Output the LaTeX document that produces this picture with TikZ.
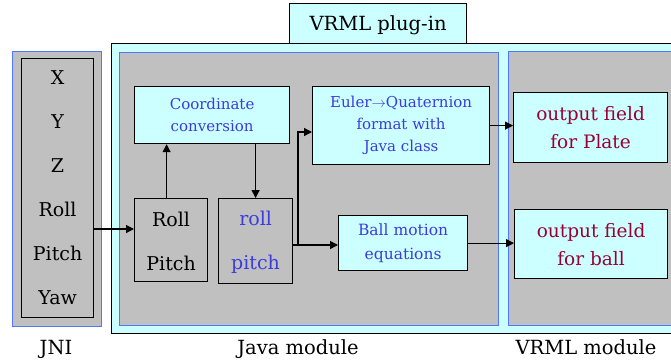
\documentclass[tikz,border=0pt]{standalone}
\usepackage{fontspec}
\setmainfont{DejaVu Serif}
\usetikzlibrary{arrows.meta,calc}
\definecolor{grayfill}{RGB}{192,192,192}
\definecolor{cyanfill}{RGB}{204,255,255}
\definecolor{blueline}{RGB}{80,120,255}
\definecolor{bluetext}{RGB}{60,60,220}
\definecolor{redtext}{RGB}{153,0,51}
\tikzset{
  box/.style={draw=black, line width=1.2pt, inner sep=0pt, anchor=north west},
  module/.style={draw=blueline, line width=1.2pt, fill=grayfill, inner sep=0pt, anchor=north west},
  graybox/.style={box, fill=grayfill},
  cyanbox/.style={box, fill=cyanfill},
  bigtxt/.style={font=\fontsize{19}{44}\selectfont, align=center},
  smalltxt/.style={font=\fontsize{15}{22}\selectfont, align=center, text=bluetext},
  redtxt/.style={font=\fontsize{18.5}{28}\selectfont, align=center, text=redtext},
  lbl/.style={font=\fontsize{19.5}{26}\selectfont, anchor=base},
  arr/.style={line width=1.2pt, -{Triangle[length=8pt,width=8pt]}},
  ln/.style={line width=1.2pt}
}
\newcommand{\boxat}[6]{% name, style, x1, y1, x2, y2
  \node[#2, minimum width={(#5-#3)*1pt}, minimum height={(#6-#4)*1pt}] (#1) at (#3,#4) {};}
\begin{document}
\begin{tikzpicture}[x=1pt,y=-1pt]
\useasboundingbox (0,0) rectangle (671,360);
\begin{scope}
\clip (0,0) rectangle (671,360);
% outer modules
\boxat{jniouter}{module}{12}{51}{101}{326}
\boxat{plugin}{cyanbox}{111}{43}{720}{333}
\boxat{title}{cyanbox}{289}{3}{466}{43}
\boxat{java}{module}{119}{52}{498}{325}
\boxat{vrml}{module}{508}{51}{720}{325}
% inner boxes
\boxat{jni}{graybox}{21}{58}{93}{317}
\boxat{coord}{cyanbox}{134}{86}{289}{143}
\boxat{euler}{cyanbox}{312}{86}{489}{164}
\boxat{rp}{graybox}{134}{198}{207}{281}
\boxat{rpb}{graybox}{218}{198}{292}{283}
\boxat{ball}{cyanbox}{338}{215}{467}{270}
\boxat{plate}{cyanbox}{513}{92}{667}{162}
\boxat{oball}{cyanbox}{514}{209}{667}{278}
\end{scope}
% texts
\node[lbl] (ttitle) at ([yshift=-7pt]title.center) {VRML plug-in};
\node[bigtxt] (tjni) at (jni.center) {X\\Y\\Z\\Roll\\Pitch\\Yaw};
\node[bigtxt] (trp) at ([yshift=-1pt]rp.center) {Roll\\Pitch};
\node[bigtxt, text=bluetext] (trpb) at ([yshift=-1pt]rpb.center) {roll\\pitch};
\node[smalltxt] (tcoord) at (coord.center) {Coordinate\\conversion};
\node[smalltxt] (teuler) at (euler.center) {Euler$\rightarrow$Quaternion\\format with\\Java class};
\node[smalltxt, font=\fontsize{15.5}{24}\selectfont] (tball) at (ball.center) {Ball motion\\equations};
\node[redtxt] (tplate) at (plate.center) {output field\\for Plate};
\node[redtxt] (toball) at (oball.center) {output field\\for ball};
\node[lbl] (ljni) at (56,354) {JNI};
\node[lbl] (ljava) at (298,354) {Java module};
\node[lbl] (lvrml) at (586,354) {VRML module};
% connectors
\draw[arr] (jni.east |- 0,229) -- (rp.west |- 0,229);
\draw[arr] ([xshift=-4.5pt]rp.north) -- ([xshift=-4.5pt]rp.north |- coord.south);
\draw[arr] (coord.south -| rpb.north) -- (rpb.north);
\coordinate (junc) at (298,245);
\draw[ln] (rpb.east |- junc) -- (junc);
\draw[arr] (junc) |- (euler.west |- 0,132);
\draw[arr] (junc) -- (ball.west |- junc);
\draw[arr] (euler.east) -- (plate.west |- euler.east);
\draw[arr] (ball.east) -- (oball.west |- ball.east);
\end{tikzpicture}
\end{document}
